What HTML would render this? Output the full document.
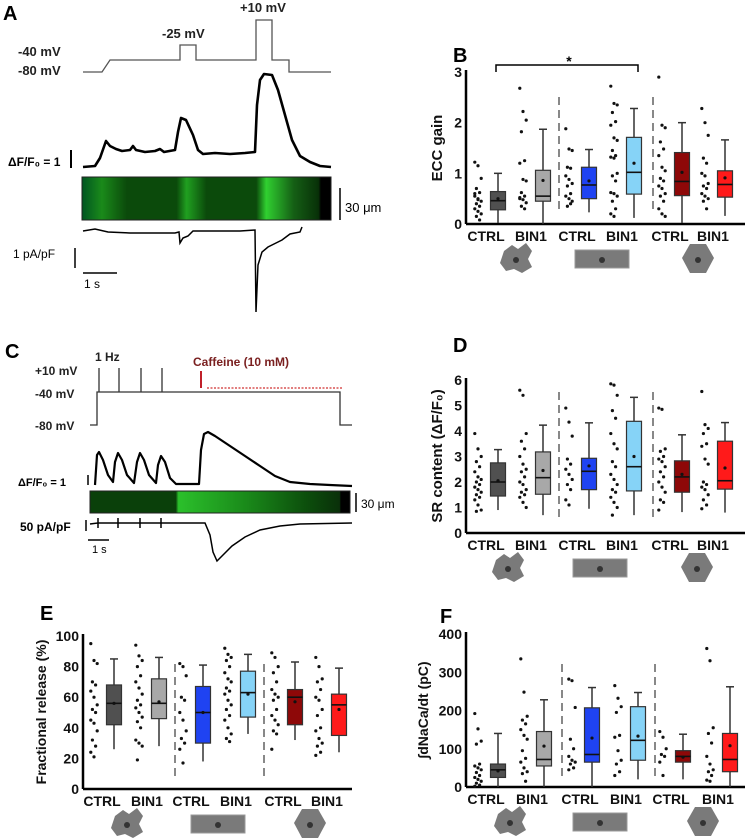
<!DOCTYPE html>
<html><head><meta charset="utf-8"><style>
html,body{margin:0;padding:0;background:#fff;}
svg{display:block;font-family:"Liberation Sans",sans-serif;}
</style></head><body>
<svg id="fig" width="747" height="839" viewBox="0 0 747 839">
<defs>
<linearGradient id="gA" x1="0" x2="1">
<stop offset="0" stop-color="#052"/><stop offset="0.08" stop-color="#1a8a1a"/><stop offset="0.18" stop-color="#0b4a0b"/>
<stop offset="0.38" stop-color="#0b4a0b"/><stop offset="0.42" stop-color="#20a020"/><stop offset="0.5" stop-color="#0b4a0b"/>
<stop offset="0.7" stop-color="#0b4a0b"/><stop offset="0.74" stop-color="#30d030"/><stop offset="0.85" stop-color="#155f15"/>
<stop offset="0.95" stop-color="#083008"/><stop offset="0.96" stop-color="#000"/><stop offset="1" stop-color="#000"/>
</linearGradient>
<linearGradient id="gC" x1="0" x2="1">
<stop offset="0" stop-color="#0a400a"/><stop offset="0.33" stop-color="#0a400a"/><stop offset="0.34" stop-color="#2bc02b"/>
<stop offset="0.6" stop-color="#1a8a1a"/><stop offset="0.85" stop-color="#0b4a0b"/><stop offset="0.96" stop-color="#0a300a"/>
<stop offset="0.965" stop-color="#000"/><stop offset="1" stop-color="#000"/>
</linearGradient>
</defs>

<g font-weight="bold">
<text x="3" y="20" font-size="20">A</text>
<text x="18" y="56" font-size="13" fill="#222">-40 mV</text>
<text x="18" y="75" font-size="13" fill="#222">-80 mV</text>
<text x="162" y="38" font-size="13" fill="#222">-25 mV</text>
<text x="240" y="12" font-size="13" fill="#222">+10 mV</text>
<path d="M83,72 H102 L110,60 H180 V45 H196 V60 H256 V20 H272 V60 H289 V72 H331" fill="none" stroke="#555" stroke-width="1.3"/>
<path d="M83,167 L95,166 L100,158 L106,141 L110,146 L116,149 L122,151 L130,150 L133,146 L136,150 L145,152 L155,151 L160,149 L164,152 L175,150 L178,132 L181,118 L186,120 L193,135 L198,150 L203,154 L215,153 L230,154 L245,153 L255,152 L257,105 L260,80 L264,74 L272,75 L278,90 L285,115 L292,140 L300,156 L310,162 L320,166 L331,167" fill="none" stroke="#000" stroke-width="2.6" stroke-linejoin="round"/>
<text x="8" y="166" font-size="12">ΔF/F₀ = 1</text>
<line x1="71" y1="150" x2="71" y2="168" stroke="#000" stroke-width="2"/>
<rect x="82" y="177" width="249" height="43" fill="url(#gA)" stroke="#222"/>
<line x1="340" y1="188" x2="340" y2="220" stroke="#000" stroke-width="1.5"/>
<text x="345" y="212" font-size="13" font-weight="normal">30 μm</text>
<path d="M83,231 L95,229 L108,232 L130,233 L175,233 L179,232 L180,243 L183,238 L188,236 L193,231 L240,231 L255,230 L256,312 L258,265 L262,252 L268,247 L276,243 L282,240 L290,234 L300,232 L302,227" fill="none" stroke="#000" stroke-width="1.5"/>
<text x="13" y="258" font-size="12" font-weight="normal">1 pA/pF</text>
<line x1="75" y1="248" x2="75" y2="268" stroke="#000" stroke-width="1.5"/>
<line x1="83" y1="273" x2="117" y2="273" stroke="#000" stroke-width="1.5"/>
<text x="84" y="288" font-size="12" font-weight="normal">1 s</text>
</g>

<g font-weight="bold">
<text x="5" y="358" font-size="20">C</text>
<text x="35" y="375" font-size="12" fill="#222">+10 mV</text>
<text x="35" y="398" font-size="12" fill="#222">-40 mV</text>
<text x="35" y="430" font-size="12" fill="#222">-80 mV</text>
<text x="95" y="361" font-size="12" fill="#222">1 Hz</text>
<text x="193" y="366" font-size="12" fill="#7a2020">Caffeine (10 mM)</text>
<path d="M90,425 H97 V392 H340 V425 H352 M99,392 V368 M119,392 V368 M141,392 V368 M162,392 V368" fill="none" stroke="#333" stroke-width="1.3"/>
<line x1="201" y1="371" x2="201" y2="388" stroke="#c0202a" stroke-width="2"/>
<line x1="207" y1="388" x2="343" y2="388" stroke="#d03030" stroke-width="1.3" stroke-dasharray="2,1.5"/>
<path d="M95,485 L97,455 L99,452 L103,460 L108,475 L113,482 L115,462 L118,453 L122,460 L127,475 L134,483 L137,462 L140,453 L144,460 L149,475 L156,483 L158,465 L161,456 L165,462 L170,478 L176,484 L199,484 L201,450 L204,434 L208,432 L215,436 L230,446 L245,456 L260,466 L275,476 L290,482 L310,484 L330,485 L352,486" fill="none" stroke="#000" stroke-width="2.2" stroke-linejoin="round"/>
<text x="18" y="486" font-size="11">ΔF/F₀ = 1</text>
<line x1="88" y1="475" x2="88" y2="485" stroke="#000" stroke-width="1.5"/>
<rect x="90" y="491" width="260" height="22" fill="url(#gC)" stroke="#222"/>
<line x1="356" y1="493" x2="356" y2="512" stroke="#000" stroke-width="1.5"/>
<text x="361" y="508" font-size="12" font-weight="normal">30 μm</text>
<path d="M90,524 L98,523 V518 V528 V523 L118,523 V518 V528 V523 L140,523 V518 V528 V523 L161,523 V518 V528 V523 L205,523 L210,535 L213,552 L217,561 L222,556 L232,546 L245,537 L260,530 L280,526 L300,524 L352,523" fill="none" stroke="#000" stroke-width="1.5"/>
<text x="20" y="531" font-size="12">50 pA/pF</text>
<line x1="86" y1="520" x2="86" y2="531" stroke="#000" stroke-width="1.5"/>
<line x1="88" y1="540" x2="109" y2="540" stroke="#000" stroke-width="1.5"/>
<text x="92" y="553" font-size="11" font-weight="normal">1 s</text>
</g>
</svg>
<script>
const cats = ['CTRL','BIN1','CTRL','BIN1','CTRL','BIN1'];
const colors = ['#505050','#a8a8a8','#1f43f2','#86d3f7','#8e0808','#ff1a1a'];

const bTicks = [0,1,2,3];
const bLo = [0.02,0,0.23,0.12,0.02,0.16];
const bQ1 = [0.28,0.45,0.5,0.59,0.56,0.53];
const bMed = [0.46,0.55,0.77,1.02,0.84,0.78];
const bQ3 = [0.64,1.06,1.12,1.71,1.41,1.05];
const bHi = [1.0,1.87,1.47,2.28,2.0,1.66];
const bMean = [0.5,0.86,0.85,1.2,1.02,0.91];
const bDots = [
[1.22,1.15,0.9,0.7,0.62,0.55,0.5,0.45,0.4,0.35,0.3,0.25,0.2,0.15,0.08,0.6,0.48],
[2.68,2.22,2.05,1.82,1.25,1.2,0.88,0.85,0.62,0.55,0.5,0.48,0.42,0.35,0.3,0.52],
[1.88,1.48,1.45,1.12,1.1,0.95,0.88,0.8,0.75,0.6,0.55,0.5,0.45,0.35,0.4],
[2.72,2.38,2.35,2.2,2.02,1.95,1.7,1.65,1.45,1.35,1.32,1.3,1.0,0.95,0.85,0.62,0.6,0.55,0.45,0.3,0.2,0.15],
[2.9,1.95,1.9,1.62,1.48,1.35,1.12,1.05,0.9,0.85,0.75,0.7,0.6,0.55,0.45,0.3,0.2,0.15],
[2.28,2.0,1.75,1.3,1.2,1.0,0.95,0.8,0.75,0.7,0.6,0.55,0.5,0.45,0.3]];

const dTicks = [0,1,2,3,4,5,6];
const dLo = [0.9,0.7,0.95,0.7,0.82,0.8];
const dQ1 = [1.45,1.52,1.7,1.65,1.6,1.72];
const dMed = [2.0,2.17,2.42,2.6,2.2,2.05];
const dQ3 = [2.75,3.18,2.93,4.38,2.83,3.6];
const dHi = [3.27,4.23,4.32,5.32,3.85,4.33];
const dMean = [2.05,2.45,2.63,3.0,2.3,2.55];
const dDots = [
[3.9,3.3,3.0,2.8,2.6,2.4,2.2,2.1,2.0,1.9,1.8,1.7,1.6,1.5,1.4,1.3,1.1,0.9,0.85],
[5.6,5.4,3.9,3.6,3.3,3.0,2.7,2.5,2.4,2.2,2.0,1.9,1.7,1.6,1.5,1.4,1.2,1.0],
[4.9,4.35,3.8,2.9,2.7,2.5,2.3,2.1,1.9,1.7,1.3,1.1],
[5.85,5.8,5.4,4.8,4.5,3.9,3.5,3.3,2.8,2.6,2.3,2.1,1.9,1.7,1.6,1.4,1.2,1.0,0.7],
[4.9,4.85,3.3,3.2,3.0,2.9,2.8,2.6,2.4,2.2,2.0,1.8,1.6,1.3,1.2,0.9],
[5.55,4.25,4.1,3.9,3.5,3.4,2.9,2.7,2.0,1.9,1.8,1.7,1.5,1.3,1.1,0.95]];

const eTicks = [0,20,40,60,80,100];
const eLo = [26,28,18,36,32,24];
const eQ1 = [42,46,30,47,42,35];
const eMed = [56,56,50,63,60,55];
const eQ3 = [68,72,67,77,65,62];
const eHi = [85,86,81,88,83,79];
const eMean = [56,57,50,62,57,52];
const eDots = [
[95,84,82,70,68,64,60,55,52,50,45,43,38,32,28,24,21],
[94,87,84,80,74,70,66,62,58,55,53,50,47,44,40,32,30,28,19],
[82,80,74,60,58,50,45,38,33,30,26,17],
[92,88,86,84,80,76,72,70,66,64,62,58,55,52,48,45,40,36,33,31],
[89,86,80,76,70,65,62,60,58,52,48,45,42,38,36,26],
[86,80,72,70,65,60,58,52,48,40,38,33,30,28,24,22]];

const fTicks = [0,100,200,300,400];
const fLo = [0,0,0,20,20,0];
const fQ1 = [25,55,65,70,65,40];
const fMed = [45,72,85,122,80,72];
const fQ3 = [60,145,207,210,95,140];
const fHi = [140,228,260,247,138,262];
const fMean = [42,107,128,133,78,108];
const fDots = [
[192,152,120,112,60,55,50,45,38,30,25,20,15,10,5,2],
[335,248,185,175,165,150,135,125,95,75,65,50,40,35,15],
[282,278,208,125,100,80,70,65,60,50,45],
[265,232,210,195,135,130,95,70,60,40,30],
[145,130,100,85,80,65,30],
[362,330,155,140,115,80,60,45,40,30,18,15]];

const NS = 'http://www.w3.org/2000/svg';
const svg = document.getElementById('fig');
function mk(tag, attrs, parent){
  const el = document.createElementNS(NS, tag);
  for (const k in attrs) el.setAttribute(k, attrs[k]);
  (parent||svg).appendChild(el);
  return el;
}

function panel(p){
  const g = mk('g', {});
  
  
  const y = v => p.y0 - (v - p.ticks[0]) / (p.ticks[p.ticks.length-1] - p.ticks[0]) * (p.y0 - p.yTop);
  const x = i => p.centers[i];
  const letter = mk('text', {x:p.letterX, y:p.letterY, 'font-size':20, 'font-weight':'bold'}, g);
  letter.textContent = p.letter;
  
  
  const yt = mk('text', {transform:`translate(${p.titleX},${p.titleY}) rotate(-90)`, 'text-anchor':'middle', 'font-size':p.titleSize, 'font-weight':'bold', fill:'#111'}, g);
  yt.textContent = p.title;
  
  
  const ya = mk('line', {x1:p.axisX, x2:p.axisX, y1:y(p.ticks[p.ticks.length-1])-2, y2:p.y0, stroke:'#000', 'stroke-width':2.5}, g);
  
  
  const xa = mk('line', {x1:p.axisX, x2:p.axisEnd, y1:p.y0, y2:p.y0, stroke:'#000', 'stroke-width':2.5}, g);
  
  
  p.ticks.forEach(t => {
    const tl = mk('text', {x:p.axisX-4, y:y(t)+5, 'text-anchor':'end', 'font-size':14, 'font-weight':'bold', fill:'#111'}, g);
    tl.textContent = t;
    
    
  });
  p.seps.forEach(sx => {
    const s = mk('line', {x1:sx, x2:sx, y1:p.sepTop, y2:p.sepBot, stroke:'#888', 'stroke-width':2, 'stroke-dasharray':'8,5'}, g);
    
    
  });
  cats.forEach((c, i) => {
    const cx = x(i), w = 15;
    const dg = mk('g', {}, g);
    
    
    p.dots[i].forEach((v, j) => {
      const jx = cx - 20 + ((j*7)%5 - 2) * 1.6;
      const d = mk('circle', {cx:jx, cy:y(v), r:1.6, fill:'#111'}, dg);
      
      
    });
    const wh = mk('line', {x1:cx, x2:cx, y1:y(p.lo[i]), y2:y(p.hi[i]), stroke:'#333', 'stroke-width':1.5}, g);
    
    
    const cap = mk('line', {x1:cx-4, x2:cx+4, y1:y(p.hi[i]), y2:y(p.hi[i]), stroke:'#333', 'stroke-width':1.5}, g);
    
    
    const box = mk('rect', {x:cx-w/2, y:y(p.q3[i]), width:w, height:y(p.q1[i])-y(p.q3[i]), fill:colors[i], stroke:'#333', 'stroke-width':1.2}, g);
    
    
    const md = mk('line', {x1:cx-w/2, x2:cx+w/2, y1:y(p.med[i]), y2:y(p.med[i]), stroke:'#111', 'stroke-width':1.6}, g);
    
    
    const mn = mk('circle', {cx:cx, cy:y(p.mean[i]), r:1.6, fill:'#111'}, g);
    
    
    const cl = mk('text', {x:cx-12, y:p.y0+17, 'text-anchor':'middle', 'font-size':14, 'font-weight':'bold', fill:'#111'}, g);
    cl.textContent = c;
    
    
  });
  const iy = p.y0 + 35;
  const ic1 = mk('path', {d:`M${p.icons[0]-12},${iy-8} l8,-6 l6,4 l8,-6 l6,8 l-4,8 l4,8 l-10,6 l-8,-4 l-8,2 l-6,-8 z`, fill:'#7a7a7a'}, g);
  
  
  const ic2 = mk('rect', {x:p.icons[1]-27, y:iy-9, width:54, height:18, fill:'#7a7a7a', stroke:'#999'}, g);
  
  
  const ic3 = mk('path', {d:`M${p.icons[2]-8},${iy-15} h16 l8,14 l-8,15 h-16 l-8,-15 z`, fill:'#7a7a7a'}, g);
  
  
  p.icons.forEach(ix => {
    const n = mk('circle', {cx:ix, cy:iy+1, r:3, fill:'#333'}, g);
    
    
  });
  return g;
}

const rightC = [498,543,589,634,682,725];
panel({name:'panel-b', letter:'B', letterX:453, letterY:62, title:'ECC gain', titleX:442, titleY:148, titleSize:15, ticks:bTicks, y0:224, yTop:72,
  axisX:466, axisEnd:745, centers:rightC, seps:[559,653], sepTop:97, sepBot:212,
  lo:bLo, q1:bQ1, med:bMed, q3:bQ3, hi:bHi, mean:bMean, dots:bDots, icons:[516,602,698]});
panel({name:'panel-d', letter:'D', letterX:453, letterY:352, title:'SR content (ΔF/F₀)', titleX:442, titleY:456, titleSize:15, ticks:dTicks, y0:533, yTop:380,
  axisX:466, axisEnd:745, centers:rightC, seps:[559,653], sepTop:392, sepBot:522,
  lo:dLo, q1:dQ1, med:dMed, q3:dQ3, hi:dHi, mean:dMean, dots:dDots, icons:[508,600,697]});
panel({name:'panel-e', letter:'E', letterX:40, letterY:620, title:'Fractional release (%)', titleX:46, titleY:712, titleSize:14, ticks:eTicks, y0:789, yTop:636,
  axisX:83, axisEnd:352, centers:[114,159,203,248,295,339], seps:[175,264], sepTop:664, sepBot:779,
  lo:eLo, q1:eQ1, med:eMed, q3:eQ3, hi:eHi, mean:eMean, dots:eDots, icons:[127,218,310]});
panel({name:'panel-f', letter:'F', letterX:440, letterY:623, title:'∫dNaCa/dt (pC)', titleX:428, titleY:710, titleSize:14, ticks:fTicks, y0:787, yTop:634,
  axisX:466, axisEnd:745, centers:[498,544,592,638,683,730], seps:[562,655], sepTop:664, sepBot:780,
  lo:fLo, q1:fQ1, med:fMed, q3:fQ3, hi:fHi, mean:fMean, dots:fDots, icons:[510,600,703]});

const br = mk('path', {d:'M496,72 V65 H638 V72', fill:'none', stroke:'#000', 'stroke-width':1.5});


const st = mk('text', {x:569, y:66, 'font-size':14, 'text-anchor':'middle', 'font-weight':'bold'});
st.textContent = '*';


</script>
</body></html>
